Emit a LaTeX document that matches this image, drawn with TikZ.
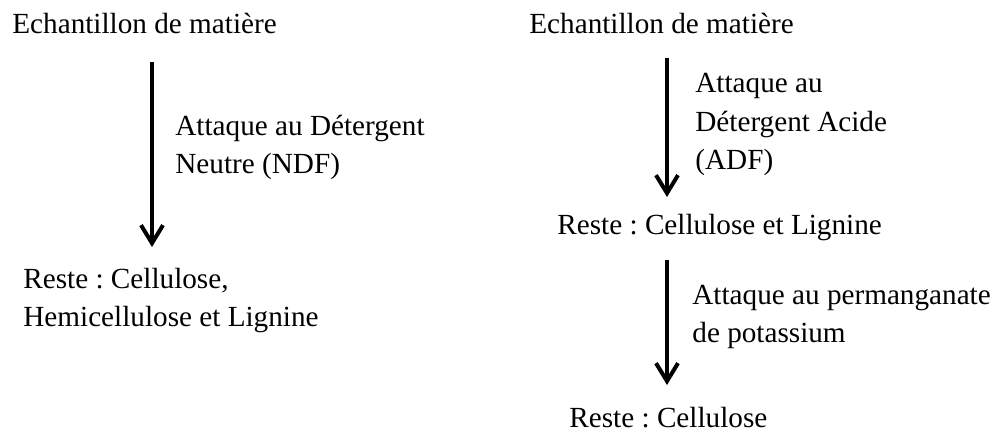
\documentclass[tikz,border=0pt]{standalone}
\usepackage{fontspec}
\setmainfont{Liberation Serif}
\usetikzlibrary{arrows.meta}
\frenchspacing

\tikzset{
  txt/.style={anchor=base west, inner sep=0pt, align=left, font=\fontsize{14.6}{19.3}\selectfont},
  flow/.style={line width=2pt, -{Straight Barb[length=9pt,width=11pt,line width=2pt]}}
}

\begin{document}
\begin{tikzpicture}[x=0.5pt,y=-0.5pt]
\useasboundingbox (0,0) rectangle (995,432);

% NDF
\node[txt] (srcL) at (12,34) {Echantillon de matière};
\node[txt] (attL) at (175,174) {Attaque au Détergent\\Neutre (NDF)};
\node[txt] (resL) at (23,327) {Reste : Cellulose,\\Hemicellulose et Lignine};
\coordinate (inL) at (152,62);
\coordinate (outL) at (152,247);
\draw[flow] (inL) -- (outL);

% ADF puis permanganate
\node[txt] (srcR) at (529,34) {Echantillon de matière};
\node[txt] (attR) at (695,170) {Attaque au\\Détergent Acide\\(ADF)};
\node[txt] (resR) at (557,235) {Reste : Cellulose et Lignine};
\node[txt] (attK) at (692,343) {Attaque au permanganate\\de potassium};
\node[txt] (resK) at (569,427) {Reste : Cellulose};
\coordinate (inR) at (667,58);
\coordinate (outR) at (667,197);
\coordinate (inK) at (667,260);
\coordinate (outK) at (667,385);
\draw[flow] (inR) -- (outR);
\draw[flow] (inK) -- (outK);

\end{tikzpicture}
\end{document}
